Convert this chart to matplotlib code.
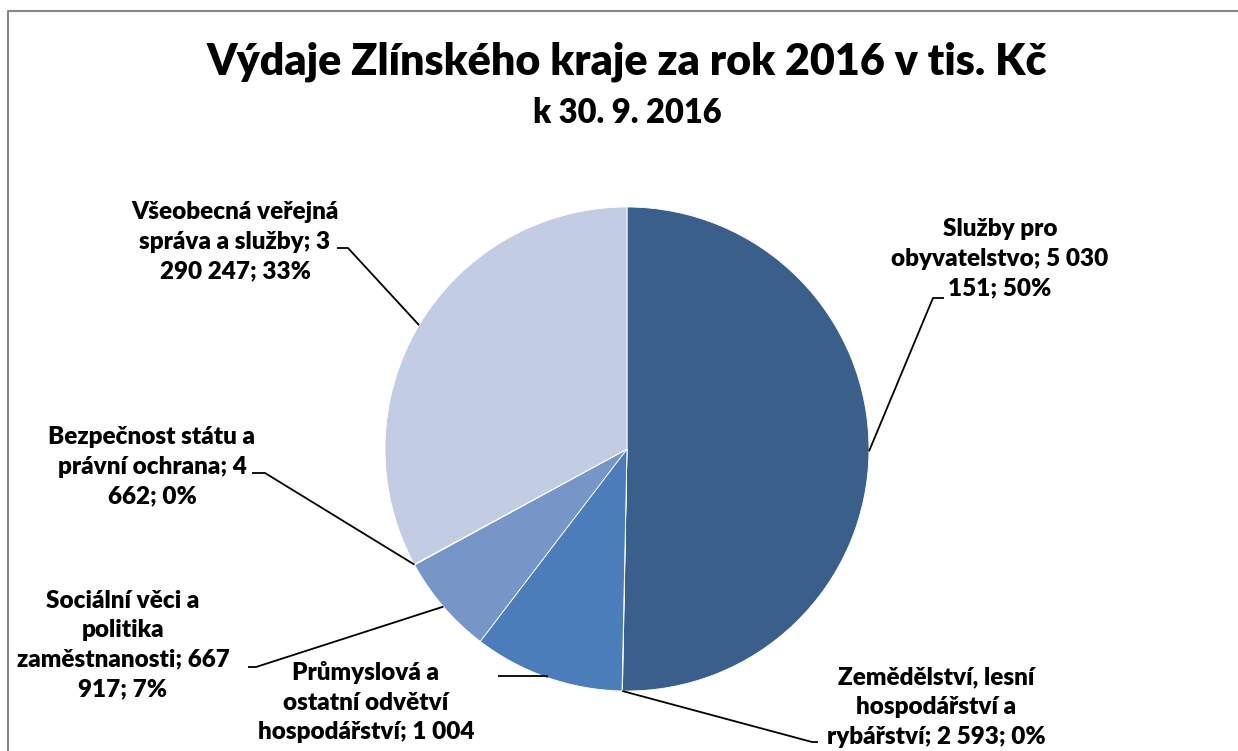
import textwrap
import matplotlib
matplotlib.use("Agg")
from matplotlib import pyplot as plt
import numpy as np

plt.rcParams['font.family'] = ['Lato', 'DejaVu Sans']

# data (tis. Kč)
categories = [
    "Služby pro obyvatelstvo",
    "Zemědělství, lesní hospodářství a rybářství",
    "Průmyslová a ostatní odvětví hospodářství",
    "Sociální věci a politika zaměstnanosti",
    "Bezpečnost státu a právní ochrana",
    "Všeobecná veřejná správa a služby",
]
values = [5030151, 2593, 1004347, 667917, 4662, 3290247]
colors = ["#3B5F8B", "#3B5F8B", "#4A7DBA", "#7596C7", "#7596C7", "#C2CDE3"]

title = "Výdaje Zlínského kraje za rok 2016 v tis. Kč"
subtitle = "k 30. 9. 2016"

# layout in image pixels (y from top)
W, H = 1238, 751
center_px = (627, 449)
radius_px = 242
wrap_widths = [19, 20, 19, 18, 18, 18]
label_pos = [(1000, 259), (936, 707), (366, 717), (123, 645), (152, 467), (235, 242)]
leader_elbow = [(933, 298), (812, 742), (547, 676), (256, 667), (265, 473), (348, 248)]
leader_end = [(944, 298), (818, 742), (498, 676), (248, 667), (252, 473), (337, 248)]


def fmt(v):
    return f"{v:,}".replace(",", " ")


fig = plt.figure(figsize=(W / 100, H / 100), dpi=100)
ax = fig.add_axes([0, 0, 1, 1])

cx, cy = center_px[0], H - center_px[1]
wedges, _ = ax.pie(values, colors=colors, startangle=90, counterclock=False,
                   center=(cx, cy), radius=radius_px, frame=True,
                   wedgeprops=dict(edgecolor="white", linewidth=0.6))
ax.set_xlim(0, W)
ax.set_ylim(0, H)
ax.axis('off')

total = sum(values)
for i, w in enumerate(wedges):
    mid = np.deg2rad((w.theta1 + w.theta2) / 2)
    sx = cx + radius_px * np.cos(mid)
    sy = cy + radius_px * np.sin(mid)
    ex, ey = leader_elbow[i]
    tx, ty = leader_end[i]
    ax.plot([sx, ex, tx], [sy, H - ey, H - ty], color="black", lw=1.3,
            solid_capstyle="butt", zorder=3)
    pct = round(values[i] / total * 100)
    txt = f"{categories[i]}; {fmt(values[i])}; {pct}%"
    lines = textwrap.wrap(txt, wrap_widths[i])
    lx, ly = label_pos[i]
    ax.text(lx, H - ly, "\n".join(lines), ha="center", va="center",
            fontsize=17.5, fontweight="heavy", linespacing=1.42, clip_on=False)

ax.text(627, H - 62, title, ha="center", va="center", fontsize=31, fontweight="heavy")
ax.text(627, H - 113, subtitle, ha="center", va="center", fontsize=23.5, fontweight="heavy")

# chart frame (right and bottom edges fall outside the image)
ax.plot([8, 8, W + 10], [-10, H - 11, H - 11], color="#868686", lw=1.5, clip_on=False)

fig.savefig("out.png", dpi=100)
